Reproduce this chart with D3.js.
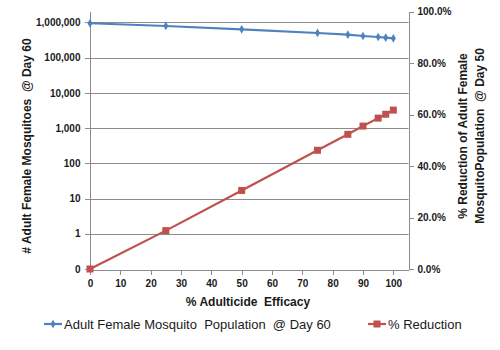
<!DOCTYPE html>
<html>
<head>
<meta charset="utf-8">
<script src="https://cdn.jsdelivr.net/npm/d3@7/dist/d3.min.js"></script>
<style>
  body { margin: 0; background: #fff; }
  svg text { font-family: "Liberation Sans", Arial, sans-serif; fill: #1a1a1a; white-space: pre; }
</style>
</head>
<body>
<div id="chart"></div>
<script>
// values
const efficacy = [0, 25, 50, 75, 85, 90, 95, 97.5, 100];
const population = [950000, 795000, 641000, 503000, 450000, 413000, 387000, 370000, 355000];
const reduction = [0, 14.9, 30.5, 46.1, 52.3, 55.5, 58.6, 60.1, 61.7];
const leftTicks = [0.1, 1, 10, 100, 1000, 10000, 100000, 1000000];
const rightTicks = [0, 20, 40, 60, 80, 100];
const xTicks = [0, 10, 20, 30, 40, 50, 60, 70, 80, 90, 100];

const W = 500, H = 350;
const blue = "#4F81BD", red = "#C0504D", grid = "#8c8c8c";

const svg = d3.select("#chart").append("svg")
    .attr("width", W).attr("height", H);

const x = d3.scaleLinear().domain([0, 105]).range([90, 408.5]);
const yL = d3.scaleLog().domain([0.1, 2.05e6]).range([269, 11.5]);
const yR = d3.scaleLinear().domain([0, 100]).range([269, 11.5]);

// gridlines from left axis
svg.append("g").selectAll("line").data(leftTicks.slice(1)).join("line")
    .attr("x1", 90).attr("x2", 408.5)
    .attr("y1", d => Math.round(yL(d)) + 0.5).attr("y2", d => Math.round(yL(d)) + 0.5)
    .attr("stroke", grid).attr("stroke-width", 1);

const fmtL = d => d < 1 ? "0" : d3.format(",")(d);

const axL = svg.append("g").attr("transform", "translate(89.5,0)")
    .call(d3.axisLeft(yL).tickValues(leftTicks).tickFormat(fmtL).tickSize(5).tickSizeOuter(0).tickPadding(4));
const axR = svg.append("g").attr("transform", "translate(408.5,0)")
    .call(d3.axisRight(yR).tickValues(rightTicks).tickFormat(d => d.toFixed(1) + "%").tickSize(5).tickSizeOuter(0).tickPadding(4));
const axX = svg.append("g").attr("transform", "translate(0,269.5)")
    .call(d3.axisBottom(x).tickValues(xTicks).tickSize(5).tickSizeOuter(0).tickPadding(5));

[axL, axR, axX].forEach(a => {
  a.selectAll("path, line").attr("stroke", grid).attr("shape-rendering", "crispEdges");
  a.selectAll("text").style("font-size", "10px").style("font-weight", "bold").attr("fill", "#1a1a1a");
});

// series
const lineBlue = d3.line().x((d, i) => x(efficacy[i])).y(d => yL(d));
const lineRed = d3.line().x((d, i) => x(efficacy[i])).y(d => yR(d));

svg.append("path").datum(population).attr("d", lineBlue)
    .attr("fill", "none").attr("stroke", blue).attr("stroke-width", 2.2);
svg.append("path").datum(reduction).attr("d", lineRed)
    .attr("fill", "none").attr("stroke", red).attr("stroke-width", 2.2);

const diamond = d3.symbol().type(d3.symbolDiamond).size(22);
svg.append("g").selectAll("path").data(population).join("path")
    .attr("d", diamond)
    .attr("transform", (d, i) => `translate(${x(efficacy[i])},${yL(d)})`)
    .attr("fill", blue);
svg.append("g").selectAll("rect").data(reduction).join("rect")
    .attr("x", (d, i) => x(efficacy[i]) - 3.5).attr("y", d => yR(d) - 3.5)
    .attr("width", 7).attr("height", 7).attr("fill", red);

// axis titles
svg.append("text").attr("transform", "translate(31,146) rotate(-90)")
    .attr("text-anchor", "middle").style("font-size", "12px").style("font-weight", "bold")
    .text("# Adult Female Mosquitoes  @ Day 60");
const rt = svg.append("text").attr("transform", "translate(467,136) rotate(-90)")
    .attr("text-anchor", "middle").style("font-size", "12px").style("font-weight", "bold");
rt.append("tspan").attr("x", 0).attr("dy", 0).text("% Reduction of Adult Female");
rt.append("tspan").attr("x", 0).attr("dy", 17).text("MosquitoPopulation  @ Day 50");
svg.append("text").attr("x", 248).attr("y", 306)
    .attr("text-anchor", "middle").style("font-size", "12px").style("font-weight", "bold")
    .text("% Adulticide  Efficacy");

// legend
const leg = svg.append("g").attr("transform", "translate(0,324)");
leg.append("line").attr("x1", 44).attr("x2", 62).attr("y1", 0).attr("y2", 0)
    .attr("stroke", blue).attr("stroke-width", 2.2);
leg.append("path").attr("d", diamond).attr("transform", "translate(53,0)").attr("fill", blue);
leg.append("text").attr("x", 64).attr("y", 5).style("font-size", "13px")
    .text("Adult Female Mosquito  Population  @ Day 60");
leg.append("line").attr("x1", 368).attr("x2", 386).attr("y1", 0).attr("y2", 0)
    .attr("stroke", red).attr("stroke-width", 2.2);
leg.append("rect").attr("x", 373.5).attr("y", -3.5).attr("width", 7).attr("height", 7).attr("fill", red);
leg.append("text").attr("x", 388).attr("y", 5).style("font-size", "13px")
    .text("% Reduction");
</script>
</body>
</html>
